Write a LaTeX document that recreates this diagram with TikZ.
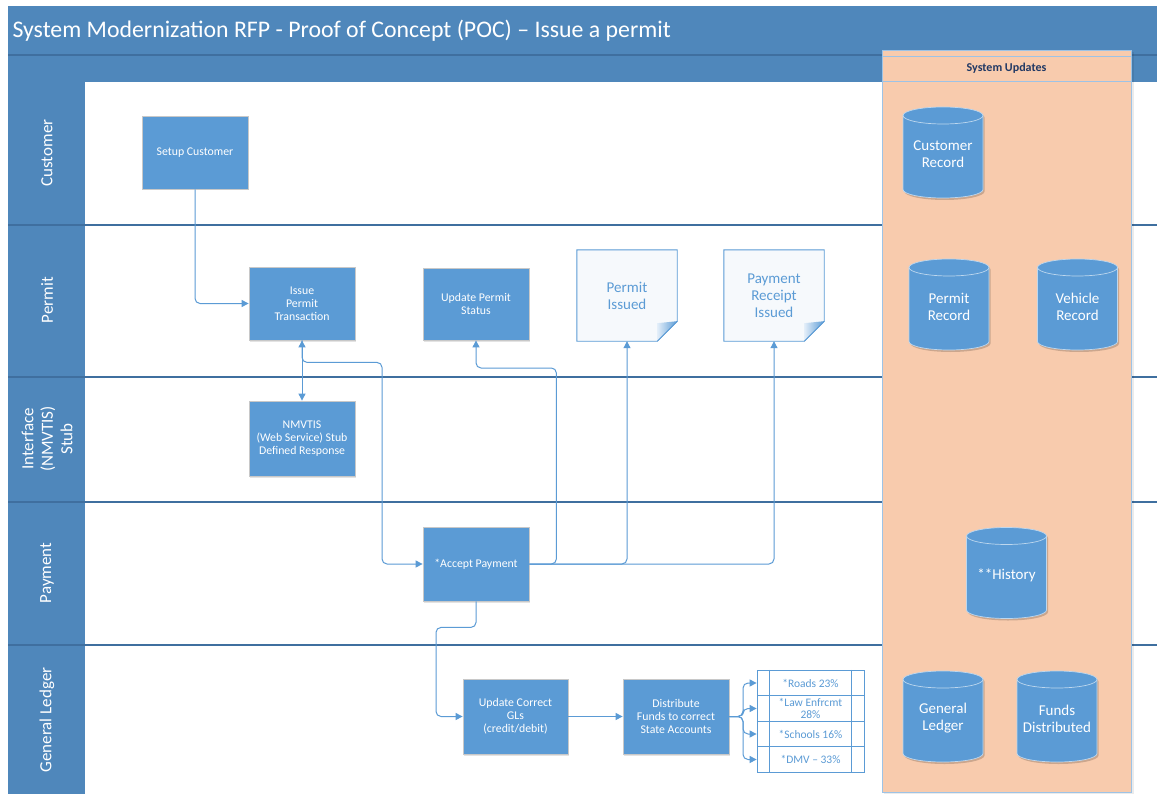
\documentclass[tikz,border=0pt]{standalone}
\usepackage{fontspec}
\setmainfont{Carlito}
\usetikzlibrary{arrows.meta,shadows}

\definecolor{barblue}{HTML}{4F87BB}
\definecolor{barline}{HTML}{3F6F9F}
\definecolor{boxblue}{HTML}{5B9BD5}
\definecolor{boxedge}{HTML}{C8C8C8}
\definecolor{peach}{HTML}{F8CBAD}
\definecolor{peachedge}{HTML}{9DC3E6}
\definecolor{navy}{HTML}{203864}
\definecolor{docfill}{HTML}{F6F9FC}
\definecolor{cyledge}{HTML}{BDD7EE}
\definecolor{foldlight}{HTML}{E3EEF9}

\newcommand\boxfont{\fontsize{11.8}{13.2}\selectfont}
\newcommand\bigfont{\fontsize{15}{17}\selectfont}

\tikzset{
  procbox/.style={draw=boxedge, line width=0.8pt, fill=boxblue, text=white,
    minimum width=106, minimum height=73, align=center, font=\boxfont,
    drop shadow={shadow xshift=1.2pt, shadow yshift=-1.5pt, opacity=0.22}},
  docbox/.style={minimum width=100, minimum height=91, align=center,
    text=boxblue, font=\bigfont},
  docline/.style={draw=boxblue, line width=0.9pt, fill=docfill},
  cyltext/.style={align=center, text=white, font=\bigfont},
  lanelabel/.style={rotate=90, align=center, text=white,
    font=\fontsize{17}{19.5}\selectfont},
  tabrow/.style={draw=boxblue, line width=0.8pt, fill=white, minimum width=107,
    minimum height=25.5, inner sep=1pt, align=center, text=boxblue,
    font=\fontsize{11.5}{12.5}\selectfont},
  lanesep/.style={draw=barline, line width=1.1pt},
  flow/.style={draw=boxblue, line width=1pt, rounded corners=5pt,
    -{Triangle[length=7pt,width=7pt]}},
  flowboth/.style={draw=boxblue, line width=1pt,
    {Triangle[length=7pt,width=7pt]}-{Triangle[length=7pt,width=7pt]}},
}

% database cylinder: name, centre x, centre y, label
\newcommand\dbcyl[4]{%
  \begin{scope}[shift={(#2,#3)}]
    \fill[black, opacity=0.18] (-38.5,-35) -- (-38.5,39) arc[start angle=180, end angle=0, x radius=40, y radius=8.5]
      -- (41.5,-35) arc[start angle=0, end angle=-180, x radius=40, y radius=8.5] -- cycle;
    \filldraw[fill=boxblue, draw=cyledge, line width=0.7pt]
      (-40,-37) -- (-40,37) arc[start angle=180, end angle=0, x radius=40, y radius=8.5]
      -- (40,-37) arc[start angle=0, end angle=-180, x radius=40, y radius=8.5] -- cycle;
    \draw[cyledge, line width=0.7pt] (-40,-37) arc[start angle=180, end angle=0, x radius=40, y radius=8.5];
    \node[cyltext] (#1) at (0,2) {#4};
  \end{scope}}

\begin{document}
\begin{tikzpicture}[x=1pt, y=-1pt]
  \useasboundingbox (0,0) rectangle (1158,794);

  % frame, title bar and lane label column
  \fill[barblue] (8,6) rectangle (1157,794);
  \fill[white] (85,82) rectangle (1157,794);
  \draw[lanesep] (8,55) -- (1157,55);
  \node[anchor=west, text=white, font=\fontsize{23.8}{27}\selectfont] (title) at (9,31)
    {System Modernization RFP - Proof of Concept (POC) – Issue a permit};

  % lane separators
  \foreach \yy in {225,377,502,645} \draw[lanesep] (8,\yy) -- (1157,\yy);

  % lane labels
  \node[lanelabel] (lcust) at (47,153) {Customer};
  \node[lanelabel] (lperm) at (47,300) {Permit};
  \node[lanelabel] (lintf) at (47,439) {Interface\\(NMVTIS)\\Stub};
  \node[lanelabel] (lpay) at (47,573) {Payment};
  \node[lanelabel] (lgl) at (47,720) {General Ledger};

  % system updates column
  \fill[black, opacity=0.08] (884,52) rectangle (1134,794);
  \filldraw[fill=peach, draw=peachedge, line width=0.8pt] (882,50) rectangle (1131,792);
  \draw[peachedge, line width=0.8pt] (882,56) -- (1131,56);
  \draw[peachedge, line width=0.8pt] (882,81) -- (1131,81);
  \node[text=navy, font=\bfseries\fontsize{12}{14}\selectfont] (suhead) at (1006.5,68.5) {System Updates};

  \dbcyl{custrec}{943}{152.5}{Customer\\Record}
  \dbcyl{permrec}{949}{304.5}{Permit\\Record}
  \dbcyl{vehrec}{1077.5}{304.5}{Vehicle\\Record}
  \dbcyl{hist}{1006.5}{573}{**History}
  \dbcyl{glrec}{943}{716.5}{General\\Ledger}
  \dbcyl{fundrec}{1057}{716.5}{Funds\\Distributed}

  % process steps
  \node[procbox] (setup) at (195,152.5) {Setup Customer};
  \node[procbox] (ipt) at (302,303.5) {Issue\\Permit\\Transaction};
  \node[procbox, minimum height=72] (ups) at (476,304) {Update Permit\\Status};
  \node[procbox, minimum height=75] (nmv) at (302,438.5) {NMVTIS\\(Web Service) Stub\\Defined Response};
  \node[procbox, minimum height=74] (acc) at (476,564) {*Accept Payment};
  \node[procbox, minimum width=105, minimum height=75] (gls) at (515.5,716.5) {Update Correct\\GLs\\(credit/debit)};
  \node[procbox, minimum height=75] (dist) at (676,716.5) {Distribute\\Funds to correct\\State Accounts};

  % issued documents: outline with a curled corner, label on top
  \node[docbox] (pi) at (627,295.5) {};
  \node[docbox] (pr) at (774,295.5) {};
  \foreach \d in {pi,pr}{
    \draw[docline] (\d.north west) -- (\d.north east) -- ([yshift=20pt]\d.south east)
      -- ([xshift=-20pt]\d.south east) -- (\d.south west) -- cycle;
    \shade[left color=foldlight, right color=boxblue] ([xshift=-20pt]\d.south east)
      -- ([xshift=-20pt,yshift=18pt]\d.south east) -- ([yshift=20pt]\d.south east) -- cycle;
    \draw[boxblue, line width=0.9pt] ([xshift=-20pt]\d.south east) -- ([yshift=20pt]\d.south east);
  }
  \node[docbox] (pitext) at (pi) {Permit\\Issued};
  \node[docbox] (prtext) at (pr) {Payment\\Receipt\\Issued};

  % fund distribution table
  \node[tabrow] (r1) at (810.5,683) {*Roads 23\%};
  \node[tabrow] (r2) at (810.5,708.5) {*Law Enfrcmt\\28\%};
  \node[tabrow] (r3) at (810.5,734) {*Schools 16\%};
  \node[tabrow] (r4) at (810.5,759.5) {*DMV – 33\%};
  \draw[boxblue, line width=0.8pt] ([xshift=13pt]r1.north west) -- ([xshift=13pt]r4.south west);
  \draw[boxblue, line width=0.8pt] ([xshift=-13pt]r1.north east) -- ([xshift=-13pt]r4.south east);

  % connectors
  \draw[flow] (setup.south) |- (ipt.west);
  \draw[flowboth] (ipt.south) -- (nmv.north);
  \draw[flow] (ipt.south) -- ++(0,22) -- ++(80,0) |- (acc.west);
  \draw[flow] (acc.east) -- ++(27,0) |- (476,368) -- (ups.south);
  \draw[flow] (acc.east) -| (pi.south);
  \draw[flow] (acc.east) -| (pr.south);
  \draw[flow] (acc.south) -- ++(0,26) -| (436,716.5) -- (gls.west);
  \draw[flow] (gls.east) -- (dist.west);
  \foreach \r in {r1,r2,r3,r4}
    \draw[flow] (dist.east) -- (743,716.5) |- (\r.west);
\end{tikzpicture}
\end{document}
